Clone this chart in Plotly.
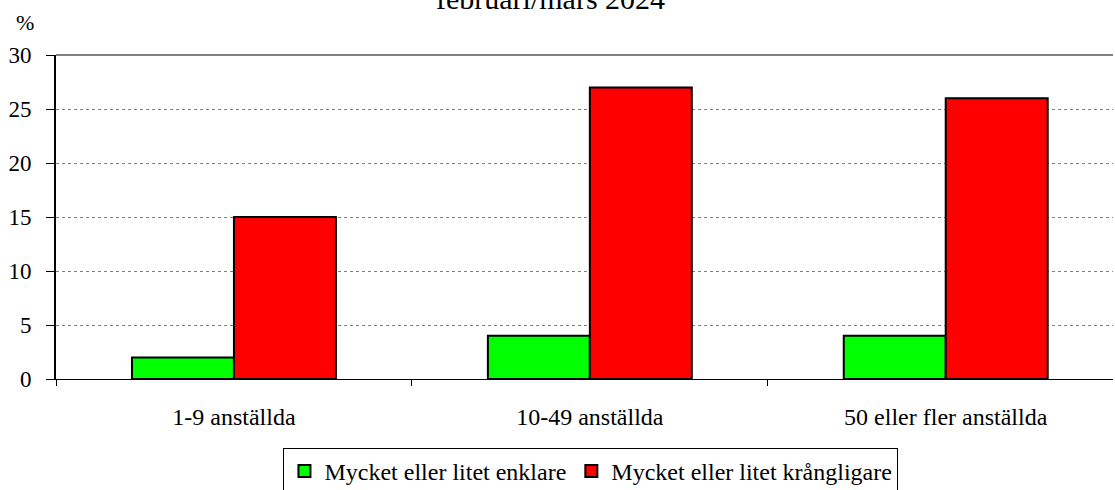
import plotly.graph_objects as go

categories = ["1-9 anställda", "10-49 anställda", "50 eller fler anställda"]
enklare = [2, 4, 4]
krangligare = [15, 27, 26]
y_ticks = [0, 5, 10, 15, 20, 25, 30]

INK = "#000000"
GRID = "#808080"
FONT = "Liberation Serif"

fig = go.Figure()
fig.add_trace(go.Bar(
    x=categories, y=enklare, name="Mycket eller litet enklare",
    marker=dict(color="#00FF00", line=dict(color=INK, width=2)),
))
fig.add_trace(go.Bar(
    x=categories, y=krangligare, name="Mycket eller litet krångligare",
    marker=dict(color="#FF0000", line=dict(color=INK, width=2)),
))

fig.update_layout(
    width=1115, height=490,
    margin=dict(l=56, r=2, t=55, b=111),
    paper_bgcolor="white", plot_bgcolor="white",
    font=dict(family=FONT, color=INK, size=24),
    barmode="group", bargap=0.427, bargroupgap=0,
    showlegend=True,
    legend=dict(
        orientation="h", xref="container", yref="container",
        x=0.53, xanchor="center", y=0.086, yanchor="top",
        bordercolor=INK, borderwidth=1, font=dict(size=24),
        itemwidth=30, traceorder="normal",
    ),
    xaxis=dict(
        range=[-0.5, 2.47], showline=True, linecolor=INK, linewidth=1,
        ticks="outside", tickson="boundaries", ticklen=6, tickcolor=INK,
        showgrid=False, tickfont=dict(size=24), ticklabelstandoff=16,
    ),
    yaxis=dict(
        range=[0, 30], tickvals=y_ticks, showline=True, linecolor=INK, linewidth=2,
        ticks="outside", ticklen=8, tickcolor=INK,
        gridcolor=GRID, griddash="dot", gridwidth=1, zeroline=False,
        tickfont=dict(size=23), ticklabelstandoff=10,
    ),
    shapes=[dict(type="line", xref="paper", yref="paper", x0=0, x1=1, y0=1, y1=1,
                 line=dict(color=GRID, width=2))],
    annotations=[
        dict(text="%", xref="paper", yref="paper", x=-0.029, y=1.055,
             showarrow=False, font=dict(size=22), xanchor="center", yanchor="bottom"),
        dict(text="februari/mars 2024", xref="paper", yref="paper", x=0.468, y=1.117,
             showarrow=False, font=dict(size=30), xanchor="center", yanchor="bottom"),
    ],
)

# the page's default body margin would shift the chart by 8px
fig.write_html(
    "out.html",
    config={"displayModeBar": False},
    post_script="document.body.style.margin = '0';",
)
